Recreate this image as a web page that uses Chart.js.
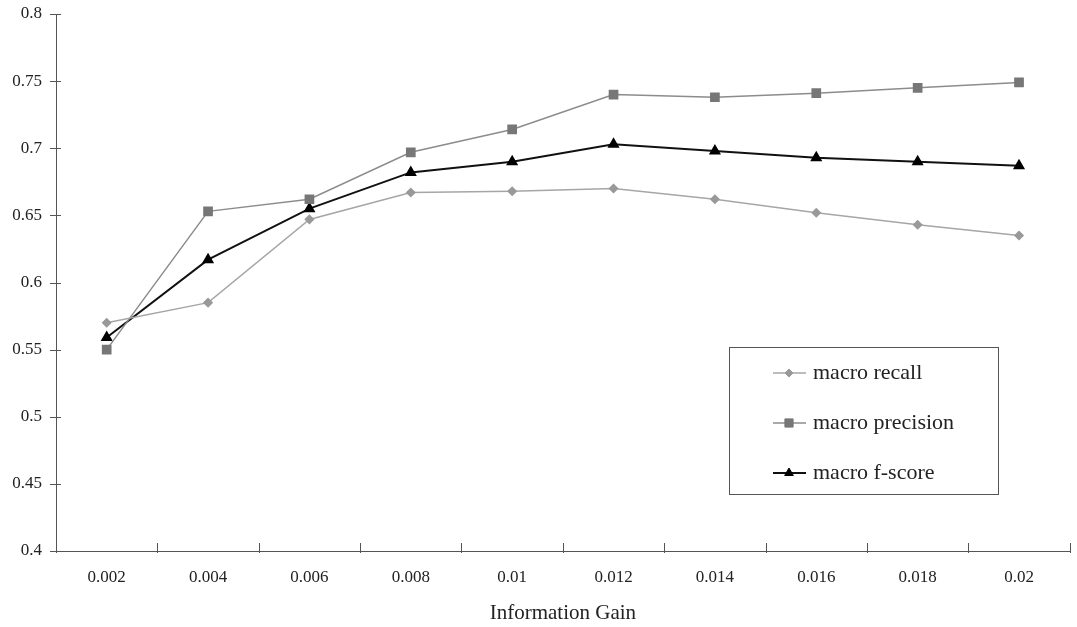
<!DOCTYPE html>
<html><head><meta charset="utf-8">
<script src="https://cdn.jsdelivr.net/npm/chart.js@4"></script>
<style>html,body{margin:0;padding:0;background:#fff;}#wrap{width:1077px;height:627px;}</style>
</head><body><div id="wrap"><canvas id="c" width="1077" height="627"></canvas></div>
<script>
const categories = ['0.002','0.004','0.006','0.008','0.01','0.012','0.014','0.016','0.018','0.02'];
const macroRecall    = [0.570,0.585,0.647,0.667,0.668,0.670,0.662,0.652,0.643,0.635];
const macroPrecision = [0.550,0.653,0.662,0.697,0.714,0.740,0.738,0.741,0.745,0.749];
const macroFscore    = [0.559,0.617,0.655,0.682,0.690,0.703,0.698,0.693,0.690,0.687];
const yTicks = [0.4,0.45,0.5,0.55,0.6,0.65,0.7,0.75,0.8];
const seriesNames = ['macro recall','macro precision','macro f-score'];
const FONT = "'Liberation Serif', 'DejaVu Serif', serif";

const crossTicks = {
  id:'crossTicks',
  afterDraw(chart){
    const ctx = chart.ctx, x = chart.scales.x, y = chart.scales.y, a = chart.chartArea;
    ctx.save(); ctx.strokeStyle='#555'; ctx.lineWidth=1;
    y.ticks.forEach((t,i)=>{ const p = Math.round(y.getPixelForTick(i))+0.5;
      ctx.beginPath(); ctx.moveTo(a.left-6,p); ctx.lineTo(a.left+5,p); ctx.stroke(); });
    for(let i=0;i<=categories.length;i++){
      const p = Math.round(x.getPixelForValue(i-0.5))+0.5;
      ctx.beginPath(); ctx.moveTo(p,a.bottom-8); ctx.lineTo(p,a.bottom+2); ctx.stroke(); }
    ctx.restore();
  }
};

const boxLegend = {
  id:'boxLegend',
  afterDraw(chart){
    const ctx = chart.ctx;
    const bx=729, by=347, bw=269, bh=147;
    ctx.save();
    ctx.fillStyle='#fff'; ctx.fillRect(bx,by,bw,bh);
    ctx.strokeStyle='#555'; ctx.lineWidth=1; ctx.strokeRect(bx+0.5,by+0.5,bw,bh);
    chart.data.datasets.forEach((ds,i)=>{
      const cy = 373 + i*50;
      ctx.strokeStyle = ds.borderColor; ctx.lineWidth = ds.borderWidth;
      ctx.beginPath(); ctx.moveTo(773,cy); ctx.lineTo(806,cy); ctx.stroke();
      ctx.fillStyle = ds.pointBackgroundColor; ctx.strokeStyle = ds.pointBorderColor; ctx.lineWidth = 1;
      Chart.helpers.drawPoint(ctx,{pointStyle:ds.pointStyle,radius:ds.pointRadius,borderWidth:1,rotation:0},789,cy);
      ctx.fillStyle='#222'; ctx.font = "22px "+FONT; ctx.textBaseline='middle'; ctx.textAlign='left';
      ctx.fillText(ds.label, 813, cy);
    });
    ctx.restore();
  }
};

new Chart(document.getElementById('c'), {
  type:'line',
  data:{
    labels:categories,
    datasets:[
      {label:seriesNames[0], data:macroRecall, borderColor:'#a6a6a6', borderWidth:1.5,
       pointStyle:'rectRot', pointRadius:4, pointBackgroundColor:'#999', pointBorderColor:'#999', tension:0},
      {label:seriesNames[1], data:macroPrecision, borderColor:'#8c8c8c', borderWidth:1.5,
       pointStyle:'rect', pointRadius:5.8, pointBackgroundColor:'#777', pointBorderColor:'#777', tension:0},
      {label:seriesNames[2], data:macroFscore, borderColor:'#111', borderWidth:2,
       pointStyle:'triangle', pointRadius:5, pointBackgroundColor:'#000', pointBorderColor:'#000', tension:0}
    ]
  },
  options:{
    responsive:false, animation:false,
    layout:{padding:{top:14,right:7,left:0,bottom:0}},
    plugins:{legend:{display:false}, tooltip:{enabled:false}},
    scales:{
      x:{
        offset:true,
        grid:{display:false, drawTicks:false},
        border:{display:true,color:'#555',width:1},
        ticks:{color:'#222',font:{family:FONT,size:17},padding:16,maxRotation:0},
        title:{display:true,text:'Information Gain',color:'#222',font:{family:FONT,size:21},padding:{top:0,bottom:1}},
        afterFit(s){s.height=76; s.paddingLeft=0; s.paddingRight=0;}
      },
      y:{
        min:0.4,max:0.8,
        afterBuildTicks(s){ s.ticks = yTicks.map(v=>({value:v})); },
        grid:{display:false, drawTicks:false},
        border:{display:true,color:'#555',width:1},
        ticks:{color:'#222',font:{family:FONT,size:17},padding:14,callback:v=>String(v)},
        afterFit(s){s.width=56; s.paddingTop=0; s.paddingBottom=0;}
      }
    }
  },
  plugins:[crossTicks, boxLegend]
});
</script></body></html>
